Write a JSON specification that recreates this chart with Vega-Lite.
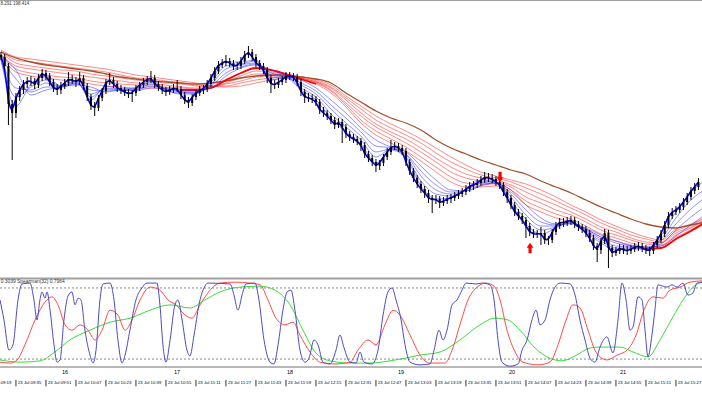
{
"$schema":"https://vega.github.io/schema/vega-lite/v6.json",
"padding":0,"spacing":0,"background":"white","bounds":"flush",
"config":{"view":{"stroke":null},"font":"Liberation Sans"},
"datasets":{
"candles":[
{"t":567,"o":198.890,"c":198.886,"h":198.896,"l":198.880},
{"t":569,"o":198.886,"c":198.868,"h":198.892,"l":198.860},
{"t":571,"o":198.868,"c":198.792,"h":198.874,"l":198.750},
{"t":573,"o":198.792,"c":198.774,"h":198.800,"l":198.680},
{"t":575,"o":198.774,"c":198.806,"h":198.814,"l":198.764},
{"t":577,"o":198.806,"c":198.820,"h":198.828,"l":198.798},
{"t":579,"o":198.820,"c":198.832,"h":198.840,"l":198.812},
{"t":581,"o":198.832,"c":198.838,"h":198.846,"l":198.824},
{"t":583,"o":198.838,"c":198.838,"h":198.848,"l":198.828},
{"t":585,"o":198.838,"c":198.830,"h":198.844,"l":198.822},
{"t":587,"o":198.830,"c":198.844,"h":198.852,"l":198.824},
{"t":589,"o":198.844,"c":198.854,"h":198.862,"l":198.838},
{"t":591,"o":198.854,"c":198.848,"h":198.860,"l":198.840},
{"t":593,"o":198.848,"c":198.836,"h":198.854,"l":198.828},
{"t":595,"o":198.836,"c":198.824,"h":198.842,"l":198.816},
{"t":597,"o":198.824,"c":198.820,"h":198.832,"l":198.810},
{"t":599,"o":198.820,"c":198.828,"h":198.836,"l":198.812},
{"t":601,"o":198.828,"c":198.834,"h":198.842,"l":198.822},
{"t":603,"o":198.834,"c":198.842,"h":198.856,"l":198.828},
{"t":605,"o":198.842,"c":198.840,"h":198.850,"l":198.832},
{"t":607,"o":198.840,"c":198.836,"h":198.846,"l":198.826},
{"t":609,"o":198.836,"c":198.844,"h":198.856,"l":198.830},
{"t":611,"o":198.844,"c":198.828,"h":198.850,"l":198.820},
{"t":613,"o":198.828,"c":198.806,"h":198.834,"l":198.798},
{"t":615,"o":198.806,"c":198.788,"h":198.812,"l":198.780},
{"t":617,"o":198.788,"c":198.784,"h":198.796,"l":198.768},
{"t":619,"o":198.784,"c":198.804,"h":198.810,"l":198.778},
{"t":621,"o":198.804,"c":198.818,"h":198.824,"l":198.798},
{"t":623,"o":198.818,"c":198.836,"h":198.842,"l":198.812},
{"t":625,"o":198.836,"c":198.840,"h":198.854,"l":198.830},
{"t":627,"o":198.840,"c":198.832,"h":198.846,"l":198.824},
{"t":629,"o":198.832,"c":198.824,"h":198.838,"l":198.816},
{"t":631,"o":198.824,"c":198.820,"h":198.830,"l":198.812},
{"t":633,"o":198.820,"c":198.816,"h":198.826,"l":198.808},
{"t":635,"o":198.816,"c":198.812,"h":198.822,"l":198.804},
{"t":637,"o":198.812,"c":198.814,"h":198.820,"l":198.796},
{"t":639,"o":198.814,"c":198.824,"h":198.830,"l":198.808},
{"t":641,"o":198.824,"c":198.830,"h":198.836,"l":198.818},
{"t":643,"o":198.830,"c":198.836,"h":198.844,"l":198.824},
{"t":645,"o":198.836,"c":198.842,"h":198.848,"l":198.830},
{"t":647,"o":198.842,"c":198.844,"h":198.858,"l":198.834},
{"t":649,"o":198.844,"c":198.832,"h":198.850,"l":198.824},
{"t":651,"o":198.832,"c":198.826,"h":198.838,"l":198.818},
{"t":653,"o":198.826,"c":198.820,"h":198.832,"l":198.812},
{"t":655,"o":198.820,"c":198.816,"h":198.826,"l":198.808},
{"t":657,"o":198.816,"c":198.820,"h":198.828,"l":198.810},
{"t":659,"o":198.820,"c":198.824,"h":198.832,"l":198.814},
{"t":661,"o":198.824,"c":198.822,"h":198.840,"l":198.816},
{"t":663,"o":198.822,"c":198.810,"h":198.828,"l":198.802},
{"t":665,"o":198.810,"c":198.800,"h":198.816,"l":198.792},
{"t":667,"o":198.800,"c":198.794,"h":198.806,"l":198.784},
{"t":669,"o":198.794,"c":198.806,"h":198.812,"l":198.788},
{"t":671,"o":198.806,"c":198.814,"h":198.820,"l":198.800},
{"t":673,"o":198.814,"c":198.820,"h":198.828,"l":198.808},
{"t":675,"o":198.820,"c":198.822,"h":198.830,"l":198.812},
{"t":677,"o":198.822,"c":198.832,"h":198.840,"l":198.816},
{"t":679,"o":198.832,"c":198.844,"h":198.852,"l":198.826},
{"t":681,"o":198.844,"c":198.858,"h":198.866,"l":198.838},
{"t":683,"o":198.858,"c":198.870,"h":198.878,"l":198.852},
{"t":685,"o":198.870,"c":198.874,"h":198.882,"l":198.864},
{"t":687,"o":198.874,"c":198.878,"h":198.890,"l":198.868},
{"t":689,"o":198.878,"c":198.874,"h":198.884,"l":198.866},
{"t":691,"o":198.874,"c":198.868,"h":198.880,"l":198.860},
{"t":693,"o":198.868,"c":198.868,"h":198.876,"l":198.860},
{"t":695,"o":198.868,"c":198.878,"h":198.886,"l":198.862},
{"t":697,"o":198.878,"c":198.890,"h":198.898,"l":198.872},
{"t":699,"o":198.890,"c":198.896,"h":198.908,"l":198.884},
{"t":701,"o":198.896,"c":198.886,"h":198.902,"l":198.878},
{"t":703,"o":198.886,"c":198.874,"h":198.892,"l":198.866},
{"t":705,"o":198.874,"c":198.868,"h":198.880,"l":198.860},
{"t":707,"o":198.868,"c":198.860,"h":198.874,"l":198.852},
{"t":709,"o":198.860,"c":198.844,"h":198.866,"l":198.834},
{"t":711,"o":198.844,"c":198.832,"h":198.850,"l":198.814},
{"t":713,"o":198.832,"c":198.830,"h":198.840,"l":198.822},
{"t":715,"o":198.830,"c":198.836,"h":198.844,"l":198.824},
{"t":717,"o":198.836,"c":198.840,"h":198.848,"l":198.830},
{"t":719,"o":198.840,"c":198.848,"h":198.856,"l":198.834},
{"t":721,"o":198.848,"c":198.848,"h":198.856,"l":198.840},
{"t":723,"o":198.848,"c":198.846,"h":198.854,"l":198.838},
{"t":725,"o":198.846,"c":198.836,"h":198.852,"l":198.828},
{"t":727,"o":198.836,"c":198.816,"h":198.842,"l":198.808},
{"t":729,"o":198.816,"c":198.806,"h":198.822,"l":198.794},
{"t":731,"o":198.806,"c":198.804,"h":198.814,"l":198.796},
{"t":733,"o":198.804,"c":198.802,"h":198.812,"l":198.794},
{"t":735,"o":198.802,"c":198.796,"h":198.808,"l":198.788},
{"t":737,"o":198.796,"c":198.780,"h":198.802,"l":198.772},
{"t":739,"o":198.780,"c":198.774,"h":198.786,"l":198.766},
{"t":741,"o":198.774,"c":198.768,"h":198.780,"l":198.760},
{"t":743,"o":198.768,"c":198.760,"h":198.774,"l":198.752},
{"t":745,"o":198.760,"c":198.750,"h":198.766,"l":198.742},
{"t":747,"o":198.750,"c":198.756,"h":198.764,"l":198.744},
{"t":749,"o":198.756,"c":198.746,"h":198.762,"l":198.714},
{"t":751,"o":198.746,"c":198.732,"h":198.752,"l":198.724},
{"t":753,"o":198.732,"c":198.726,"h":198.738,"l":198.718},
{"t":755,"o":198.726,"c":198.722,"h":198.732,"l":198.714},
{"t":757,"o":198.722,"c":198.718,"h":198.728,"l":198.710},
{"t":759,"o":198.718,"c":198.710,"h":198.724,"l":198.698},
{"t":761,"o":198.710,"c":198.692,"h":198.716,"l":198.684},
{"t":763,"o":198.692,"c":198.684,"h":198.698,"l":198.676},
{"t":765,"o":198.684,"c":198.676,"h":198.690,"l":198.668},
{"t":767,"o":198.676,"c":198.668,"h":198.682,"l":198.656},
{"t":769,"o":198.668,"c":198.674,"h":198.680,"l":198.660},
{"t":771,"o":198.674,"c":198.686,"h":198.692,"l":198.668},
{"t":773,"o":198.686,"c":198.696,"h":198.704,"l":198.680},
{"t":775,"o":198.696,"c":198.706,"h":198.720,"l":198.690},
{"t":777,"o":198.706,"c":198.708,"h":198.716,"l":198.700},
{"t":779,"o":198.708,"c":198.704,"h":198.714,"l":198.696},
{"t":781,"o":198.704,"c":198.698,"h":198.710,"l":198.690},
{"t":783,"o":198.698,"c":198.676,"h":198.704,"l":198.668},
{"t":785,"o":198.676,"c":198.658,"h":198.682,"l":198.650},
{"t":787,"o":198.658,"c":198.644,"h":198.664,"l":198.636},
{"t":789,"o":198.644,"c":198.632,"h":198.650,"l":198.624},
{"t":791,"o":198.632,"c":198.622,"h":198.638,"l":198.614},
{"t":793,"o":198.622,"c":198.614,"h":198.628,"l":198.604},
{"t":795,"o":198.614,"c":198.604,"h":198.620,"l":198.594},
{"t":797,"o":198.604,"c":198.600,"h":198.610,"l":198.574},
{"t":799,"o":198.600,"c":198.602,"h":198.610,"l":198.592},
{"t":801,"o":198.602,"c":198.594,"h":198.608,"l":198.584},
{"t":803,"o":198.594,"c":198.598,"h":198.606,"l":198.588},
{"t":805,"o":198.598,"c":198.602,"h":198.610,"l":198.592},
{"t":807,"o":198.602,"c":198.604,"h":198.612,"l":198.594},
{"t":809,"o":198.604,"c":198.608,"h":198.616,"l":198.598},
{"t":811,"o":198.608,"c":198.612,"h":198.620,"l":198.602},
{"t":813,"o":198.612,"c":198.616,"h":198.624,"l":198.606},
{"t":815,"o":198.616,"c":198.622,"h":198.630,"l":198.610},
{"t":817,"o":198.622,"c":198.628,"h":198.636,"l":198.616},
{"t":819,"o":198.628,"c":198.630,"h":198.638,"l":198.620},
{"t":821,"o":198.630,"c":198.634,"h":198.642,"l":198.624},
{"t":823,"o":198.634,"c":198.640,"h":198.648,"l":198.628},
{"t":825,"o":198.640,"c":198.646,"h":198.656,"l":198.634},
{"t":827,"o":198.646,"c":198.644,"h":198.654,"l":198.636},
{"t":829,"o":198.644,"c":198.642,"h":198.652,"l":198.634},
{"t":831,"o":198.642,"c":198.636,"h":198.648,"l":198.628},
{"t":833,"o":198.636,"c":198.630,"h":198.642,"l":198.622},
{"t":835,"o":198.630,"c":198.616,"h":198.636,"l":198.608},
{"t":837,"o":198.616,"c":198.604,"h":198.622,"l":198.594},
{"t":839,"o":198.604,"c":198.590,"h":198.610,"l":198.582},
{"t":841,"o":198.590,"c":198.576,"h":198.596,"l":198.568},
{"t":843,"o":198.576,"c":198.568,"h":198.582,"l":198.560},
{"t":845,"o":198.568,"c":198.560,"h":198.574,"l":198.552},
{"t":847,"o":198.560,"c":198.548,"h":198.566,"l":198.524},
{"t":849,"o":198.548,"c":198.536,"h":198.554,"l":198.528},
{"t":851,"o":198.536,"c":198.532,"h":198.542,"l":198.524},
{"t":853,"o":198.532,"c":198.532,"h":198.540,"l":198.524},
{"t":855,"o":198.532,"c":198.534,"h":198.546,"l":198.510},
{"t":857,"o":198.534,"c":198.520,"h":198.540,"l":198.512},
{"t":859,"o":198.520,"c":198.520,"h":198.528,"l":198.510},
{"t":861,"o":198.520,"c":198.536,"h":198.542,"l":198.514},
{"t":863,"o":198.536,"c":198.548,"h":198.556,"l":198.530},
{"t":865,"o":198.548,"c":198.556,"h":198.564,"l":198.542},
{"t":867,"o":198.556,"c":198.554,"h":198.564,"l":198.546},
{"t":869,"o":198.554,"c":198.558,"h":198.566,"l":198.548},
{"t":871,"o":198.558,"c":198.560,"h":198.568,"l":198.550},
{"t":873,"o":198.560,"c":198.552,"h":198.566,"l":198.544},
{"t":875,"o":198.552,"c":198.546,"h":198.558,"l":198.538},
{"t":877,"o":198.546,"c":198.542,"h":198.552,"l":198.534},
{"t":879,"o":198.542,"c":198.534,"h":198.548,"l":198.526},
{"t":881,"o":198.534,"c":198.524,"h":198.540,"l":198.516},
{"t":883,"o":198.524,"c":198.508,"h":198.530,"l":198.500},
{"t":885,"o":198.508,"c":198.500,"h":198.514,"l":198.476},
{"t":887,"o":198.500,"c":198.518,"h":198.524,"l":198.492},
{"t":889,"o":198.518,"c":198.534,"h":198.542,"l":198.512},
{"t":891,"o":198.534,"c":198.504,"h":198.540,"l":198.464},
{"t":893,"o":198.504,"c":198.494,"h":198.510,"l":198.486},
{"t":895,"o":198.494,"c":198.498,"h":198.506,"l":198.488},
{"t":897,"o":198.498,"c":198.504,"h":198.512,"l":198.492},
{"t":899,"o":198.504,"c":198.500,"h":198.510,"l":198.492},
{"t":901,"o":198.500,"c":198.498,"h":198.508,"l":198.490},
{"t":903,"o":198.498,"c":198.502,"h":198.510,"l":198.492},
{"t":905,"o":198.502,"c":198.506,"h":198.514,"l":198.496},
{"t":907,"o":198.506,"c":198.508,"h":198.516,"l":198.498},
{"t":909,"o":198.508,"c":198.504,"h":198.514,"l":198.496},
{"t":911,"o":198.504,"c":198.500,"h":198.510,"l":198.492},
{"t":913,"o":198.500,"c":198.498,"h":198.506,"l":198.488},
{"t":915,"o":198.498,"c":198.510,"h":198.516,"l":198.492},
{"t":917,"o":198.510,"c":198.520,"h":198.528,"l":198.504},
{"t":919,"o":198.520,"c":198.532,"h":198.540,"l":198.514},
{"t":921,"o":198.532,"c":198.550,"h":198.558,"l":198.526},
{"t":923,"o":198.550,"c":198.568,"h":198.576,"l":198.544},
{"t":925,"o":198.568,"c":198.576,"h":198.584,"l":198.562},
{"t":927,"o":198.576,"c":198.580,"h":198.588,"l":198.570},
{"t":929,"o":198.580,"c":198.586,"h":198.594,"l":198.574},
{"t":931,"o":198.586,"c":198.596,"h":198.604,"l":198.580},
{"t":933,"o":198.596,"c":198.606,"h":198.614,"l":198.590},
{"t":935,"o":198.606,"c":198.618,"h":198.626,"l":198.600},
{"t":937,"o":198.618,"c":198.626,"h":198.634,"l":198.612},
{"t":939,"o":198.626,"c":198.636,"h":198.644,"l":198.620}
],
"ribbon":[
{"t":567,"br":198.896,"r1":198.888,"r2":198.890,"r3":198.892,"r4":198.896,"r5":198.898,"r6":198.900,"b1":198.880,"b2":198.882,"b3":198.884,"b4":198.886,"b5":198.888},
{"t":575,"br":198.884,"r1":198.856,"r2":198.862,"r3":198.868,"r4":198.874,"r5":198.880,"r6":198.886,"b1":198.788,"b2":198.806,"b3":198.824,"b4":198.842,"b5":198.860},
{"t":583,"br":198.876,"r1":198.848,"r2":198.854,"r3":198.862,"r4":198.868,"r5":198.876,"r6":198.882,"b1":198.832,"b2":198.826,"b3":198.820,"b4":198.816,"b5":198.810},
{"t":591,"br":198.870,"r1":198.844,"r2":198.850,"r3":198.858,"r4":198.864,"r5":198.872,"r6":198.878,"b1":198.848,"b2":198.840,"b3":198.834,"b4":198.826,"b5":198.820},
{"t":599,"br":198.866,"r1":198.840,"r2":198.846,"r3":198.854,"r4":198.860,"r5":198.868,"r6":198.874,"b1":198.828,"b2":198.828,"b3":198.826,"b4":198.826,"b5":198.826},
{"t":607,"br":198.862,"r1":198.838,"r2":198.844,"r3":198.850,"r4":198.858,"r5":198.864,"r6":198.870,"b1":198.838,"b2":198.836,"b3":198.834,"b4":198.832,"b5":198.830},
{"t":615,"br":198.858,"r1":198.832,"r2":198.838,"r3":198.846,"r4":198.852,"r5":198.860,"r6":198.866,"b1":198.800,"b2":198.806,"b3":198.812,"b4":198.820,"b5":198.826},
{"t":623,"br":198.852,"r1":198.828,"r2":198.834,"r3":198.842,"r4":198.848,"r5":198.856,"r6":198.862,"b1":198.828,"b2":198.824,"b3":198.822,"b4":198.818,"b5":198.816},
{"t":631,"br":198.846,"r1":198.826,"r2":198.832,"r3":198.838,"r4":198.844,"r5":198.850,"r6":198.856,"b1":198.822,"b2":198.822,"b3":198.820,"b4":198.820,"b5":198.820},
{"t":639,"br":198.842,"r1":198.824,"r2":198.830,"r3":198.834,"r4":198.840,"r5":198.844,"r6":198.850,"b1":198.824,"b2":198.822,"b3":198.820,"b4":198.820,"b5":198.818},
{"t":647,"br":198.838,"r1":198.824,"r2":198.828,"r3":198.832,"r4":198.838,"r5":198.842,"r6":198.846,"b1":198.840,"b2":198.836,"b3":198.832,"b4":198.828,"b5":198.824},
{"t":655,"br":198.836,"r1":198.822,"r2":198.826,"r3":198.830,"r4":198.834,"r5":198.838,"r6":198.842,"b1":198.820,"b2":198.820,"b3":198.822,"b4":198.822,"b5":198.824},
{"t":663,"br":198.834,"r1":198.820,"r2":198.824,"r3":198.826,"r4":198.832,"r5":198.834,"r6":198.838,"b1":198.812,"b2":198.814,"b3":198.816,"b4":198.818,"b5":198.820},
{"t":671,"br":198.832,"r1":198.820,"r2":198.822,"r3":198.824,"r4":198.828,"r5":198.830,"r6":198.834,"b1":198.812,"b2":198.814,"b3":198.814,"b4":198.816,"b5":198.818},
{"t":679,"br":198.834,"r1":198.824,"r2":198.824,"r3":198.826,"r4":198.826,"r5":198.828,"r6":198.828,"b1":198.840,"b2":198.836,"b3":198.832,"b4":198.828,"b5":198.824},
{"t":687,"br":198.838,"r1":198.840,"r2":198.838,"r3":198.834,"r4":198.832,"r5":198.828,"r6":198.826,"b1":198.876,"b2":198.868,"b3":198.862,"b4":198.854,"b5":198.848},
{"t":695,"br":198.844,"r1":198.854,"r2":198.848,"r3":198.844,"r4":198.838,"r5":198.834,"r6":198.828,"b1":198.876,"b2":198.872,"b3":198.870,"b4":198.866,"b5":198.864},
{"t":703,"br":198.848,"r1":198.864,"r2":198.858,"r3":198.852,"r4":198.846,"r5":198.840,"r6":198.834,"b1":198.880,"b2":198.878,"b3":198.874,"b4":198.872,"b5":198.870},
{"t":711,"br":198.850,"r1":198.860,"r2":198.856,"r3":198.852,"r4":198.848,"r5":198.844,"r6":198.840,"b1":198.840,"b2":198.844,"b3":198.850,"b4":198.854,"b5":198.860},
{"t":719,"br":198.850,"r1":198.852,"r2":198.850,"r3":198.848,"r4":198.848,"r5":198.846,"r6":198.844,"b1":198.844,"b2":198.846,"b3":198.846,"b4":198.848,"b5":198.850},
{"t":727,"br":198.846,"r1":198.842,"r2":198.842,"r3":198.844,"r4":198.844,"r5":198.846,"r6":198.846,"b1":198.820,"b2":198.824,"b3":198.830,"b4":198.834,"b5":198.840},
{"t":735,"br":198.842,"r1":198.832,"r2":198.834,"r3":198.836,"r4":198.836,"r5":198.838,"r6":198.840,"b1":198.800,"b2":198.806,"b3":198.812,"b4":198.818,"b5":198.824},
{"t":743,"br":198.834,"r1":198.814,"r2":198.818,"r3":198.820,"r4":198.824,"r5":198.826,"r6":198.830,"b1":198.764,"b2":198.772,"b3":198.782,"b4":198.790,"b5":198.800},
{"t":751,"br":198.814,"r1":198.786,"r2":198.790,"r3":198.794,"r4":198.800,"r5":198.804,"r6":198.808,"b1":198.736,"b2":198.746,"b3":198.754,"b4":198.764,"b5":198.774},
{"t":759,"br":198.796,"r1":198.754,"r2":198.760,"r3":198.768,"r4":198.774,"r5":198.782,"r6":198.788,"b1":198.712,"b2":198.720,"b3":198.728,"b4":198.736,"b5":198.744},
{"t":767,"br":198.778,"r1":198.730,"r2":198.738,"r3":198.746,"r4":198.752,"r5":198.760,"r6":198.768,"b1":198.674,"b2":198.686,"b3":198.696,"b4":198.708,"b5":198.720},
{"t":775,"br":198.764,"r1":198.714,"r2":198.722,"r3":198.730,"r4":198.736,"r5":198.744,"r6":198.752,"b1":198.700,"b2":198.702,"b3":198.702,"b4":198.704,"b5":198.706},
{"t":783,"br":198.754,"r1":198.698,"r2":198.706,"r3":198.714,"r4":198.722,"r5":198.730,"r6":198.738,"b1":198.684,"b2":198.686,"b3":198.690,"b4":198.692,"b5":198.696},
{"t":791,"br":198.740,"r1":198.678,"r2":198.686,"r3":198.696,"r4":198.704,"r5":198.714,"r6":198.722,"b1":198.628,"b2":198.638,"b3":198.648,"b4":198.658,"b5":198.668},
{"t":799,"br":198.720,"r1":198.656,"r2":198.666,"r3":198.676,"r4":198.684,"r5":198.694,"r6":198.704,"b1":198.602,"b2":198.612,"b3":198.620,"b4":198.630,"b5":198.640},
{"t":807,"br":198.704,"r1":198.636,"r2":198.646,"r3":198.656,"r4":198.666,"r5":198.676,"r6":198.686,"b1":198.604,"b2":198.608,"b3":198.612,"b4":198.616,"b5":198.620},
{"t":815,"br":198.692,"r1":198.626,"r2":198.634,"r3":198.644,"r4":198.652,"r5":198.662,"r6":198.670,"b1":198.622,"b2":198.620,"b3":198.620,"b4":198.618,"b5":198.618},
{"t":823,"br":198.680,"r1":198.626,"r2":198.632,"r3":198.638,"r4":198.644,"r5":198.650,"r6":198.656,"b1":198.640,"b2":198.636,"b3":198.634,"b4":198.630,"b5":198.628},
{"t":831,"br":198.670,"r1":198.628,"r2":198.632,"r3":198.636,"r4":198.640,"r5":198.644,"r6":198.648,"b1":198.636,"b2":198.636,"b3":198.634,"b4":198.634,"b5":198.634},
{"t":839,"br":198.660,"r1":198.616,"r2":198.620,"r3":198.626,"r4":198.630,"r5":198.636,"r6":198.640,"b1":198.592,"b2":198.598,"b3":198.606,"b4":198.612,"b5":198.620},
{"t":847,"br":198.652,"r1":198.590,"r2":198.598,"r3":198.606,"r4":198.616,"r5":198.624,"r6":198.632,"b1":198.552,"b2":198.562,"b3":198.570,"b4":198.580,"b5":198.590},
{"t":855,"br":198.638,"r1":198.576,"r2":198.584,"r3":198.594,"r4":198.602,"r5":198.612,"r6":198.620,"b1":198.532,"b2":198.540,"b3":198.548,"b4":198.556,"b5":198.564},
{"t":863,"br":198.626,"r1":198.564,"r2":198.572,"r3":198.580,"r4":198.590,"r5":198.598,"r6":198.606,"b1":198.544,"b2":198.546,"b3":198.548,"b4":198.550,"b5":198.552},
{"t":871,"br":198.614,"r1":198.556,"r2":198.562,"r3":198.570,"r4":198.576,"r5":198.584,"r6":198.590,"b1":198.558,"b2":198.556,"b3":198.554,"b4":198.554,"b5":198.552},
{"t":879,"br":198.600,"r1":198.542,"r2":198.548,"r3":198.556,"r4":198.562,"r5":198.570,"r6":198.576,"b1":198.536,"b2":198.538,"b3":198.540,"b4":198.542,"b5":198.544},
{"t":887,"br":198.586,"r1":198.526,"r2":198.532,"r3":198.540,"r4":198.546,"r5":198.554,"r6":198.560,"b1":198.514,"b2":198.518,"b3":198.522,"b4":198.526,"b5":198.530},
{"t":895,"br":198.574,"r1":198.518,"r2":198.524,"r3":198.530,"r4":198.536,"r5":198.542,"r6":198.548,"b1":198.500,"b2":198.504,"b3":198.508,"b4":198.514,"b5":198.518},
{"t":903,"br":198.562,"r1":198.508,"r2":198.514,"r3":198.520,"r4":198.524,"r5":198.530,"r6":198.536,"b1":198.502,"b2":198.504,"b3":198.506,"b4":198.508,"b5":198.510},
{"t":911,"br":198.552,"r1":198.502,"r2":198.506,"r3":198.512,"r4":198.516,"r5":198.522,"r6":198.526,"b1":198.502,"b2":198.502,"b3":198.504,"b4":198.504,"b5":198.506},
{"t":919,"br":198.546,"r1":198.504,"r2":198.508,"r3":198.510,"r4":198.514,"r5":198.516,"r6":198.520,"b1":198.528,"b2":198.522,"b3":198.518,"b4":198.512,"b5":198.508},
{"t":927,"br":198.544,"r1":198.522,"r2":198.526,"r3":198.530,"r4":198.534,"r5":198.538,"r6":198.542,"b1":198.576,"b2":198.564,"b3":198.552,"b4":198.540,"b5":198.528},
{"t":935,"br":198.550,"r1":198.538,"r2":198.540,"r3":198.544,"r4":198.546,"r5":198.550,"r6":198.552,"b1":198.616,"b2":198.600,"b3":198.582,"b4":198.566,"b5":198.550},
{"t":943,"br":198.556,"r1":198.556,"r2":198.558,"r3":198.560,"r4":198.562,"r5":198.564,"r6":198.566,"b1":198.640,"b2":198.622,"b3":198.606,"b4":198.588,"b5":198.572}
],
"osc":[
{"t":566.5,"v":0.53,"s":"b"},{"t":568.6,"v":0.08,"s":"b"},{"t":571.3,"v":-0.60,"s":"b"},{"t":573.4,"v":-0.48,"s":"b"},{"t":576.1,"v":0.53,"s":"b"},{"t":578.2,"v":0.89,"s":"b"},{"t":582.5,"v":0.91,"s":"b"},{"t":584.6,"v":0.53,"s":"b"},{"t":586.2,"v":0.08,"s":"b"},{"t":587.8,"v":0.53,"s":"b"},{"t":588.9,"v":0.71,"s":"b"},{"t":590.5,"v":0.57,"s":"b"},{"t":591.6,"v":0.71,"s":"b"},{"t":593.2,"v":0.30,"s":"b"},{"t":595.3,"v":-0.48,"s":"b"},{"t":596.9,"v":-0.87,"s":"b"},{"t":598.5,"v":-0.82,"s":"b"},{"t":600.6,"v":0.08,"s":"b"},{"t":602.8,"v":0.62,"s":"b"},{"t":604.9,"v":0.71,"s":"b"},{"t":606.5,"v":0.42,"s":"b"},{"t":608.1,"v":0.57,"s":"b"},{"t":609.7,"v":0.53,"s":"b"},{"t":611.8,"v":-0.15,"s":"b"},{"t":614.5,"v":-0.71,"s":"b"},{"t":616.1,"v":-0.89,"s":"b"},{"t":617.7,"v":-0.60,"s":"b"},{"t":619.8,"v":0.53,"s":"b"},{"t":621.4,"v":0.89,"s":"b"},{"t":625.2,"v":0.91,"s":"b"},{"t":627.3,"v":0.53,"s":"b"},{"t":629.4,"v":-0.37,"s":"b"},{"t":631.6,"v":-0.89,"s":"b"},{"t":633.2,"v":-0.71,"s":"b"},{"t":635.8,"v":-0.15,"s":"b"},{"t":639.0,"v":0.53,"s":"b"},{"t":642.2,"v":0.80,"s":"b"},{"t":644.9,"v":0.91,"s":"b"},{"t":650.2,"v":0.91,"s":"b"},{"t":651.8,"v":0.42,"s":"b"},{"t":653.4,"v":-0.48,"s":"b"},{"t":655.0,"v":-0.87,"s":"b"},{"t":657.2,"v":-0.37,"s":"b"},{"t":659.8,"v":0.42,"s":"b"},{"t":661.4,"v":0.53,"s":"b"},{"t":663.6,"v":0.08,"s":"b"},{"t":666.2,"v":-0.60,"s":"b"},{"t":667.8,"v":-0.73,"s":"b"},{"t":670.0,"v":-0.26,"s":"b"},{"t":672.6,"v":0.42,"s":"b"},{"t":675.3,"v":0.80,"s":"b"},{"t":677.4,"v":0.91,"s":"b"},{"t":689.2,"v":0.89,"s":"b"},{"t":691.3,"v":0.64,"s":"b"},{"t":693.4,"v":0.30,"s":"b"},{"t":695.6,"v":0.64,"s":"b"},{"t":697.7,"v":0.89,"s":"b"},{"t":702.5,"v":0.91,"s":"b"},{"t":704.6,"v":0.53,"s":"b"},{"t":707.3,"v":-0.37,"s":"b"},{"t":710.5,"v":-0.87,"s":"b"},{"t":712.6,"v":-0.91,"s":"b"},{"t":714.8,"v":-0.48,"s":"b"},{"t":717.4,"v":0.30,"s":"b"},{"t":719.6,"v":0.71,"s":"b"},{"t":721.7,"v":0.75,"s":"b"},{"t":723.8,"v":0.30,"s":"b"},{"t":726.5,"v":-0.60,"s":"b"},{"t":729.2,"v":-0.87,"s":"b"},{"t":731.3,"v":-0.78,"s":"b"},{"t":734.0,"v":-0.37,"s":"b"},{"t":736.1,"v":-0.48,"s":"b"},{"t":738.8,"v":-0.87,"s":"b"},{"t":742.5,"v":-0.91,"s":"b"},{"t":745.7,"v":-0.60,"s":"b"},{"t":747.8,"v":-0.26,"s":"b"},{"t":750.0,"v":-0.55,"s":"b"},{"t":753.2,"v":-0.87,"s":"b"},{"t":756.4,"v":-0.89,"s":"b"},{"t":758.5,"v":-0.64,"s":"b"},{"t":760.6,"v":-0.87,"s":"b"},{"t":764.9,"v":-0.91,"s":"b"},{"t":768.1,"v":-0.60,"s":"b"},{"t":770.8,"v":0.19,"s":"b"},{"t":773.4,"v":0.71,"s":"b"},{"t":775.6,"v":0.80,"s":"b"},{"t":777.7,"v":0.53,"s":"b"},{"t":780.4,"v":0.08,"s":"b"},{"t":782.5,"v":-0.48,"s":"b"},{"t":785.2,"v":-0.87,"s":"b"},{"t":790.5,"v":-0.93,"s":"b"},{"t":795.8,"v":-0.91,"s":"b"},{"t":798.0,"v":-0.60,"s":"b"},{"t":800.6,"v":-0.15,"s":"b"},{"t":802.8,"v":-0.37,"s":"b"},{"t":804.9,"v":-0.15,"s":"b"},{"t":807.6,"v":0.42,"s":"b"},{"t":810.2,"v":0.53,"s":"b"},{"t":812.9,"v":0.75,"s":"b"},{"t":815.0,"v":0.91,"s":"b"},{"t":820.4,"v":0.89,"s":"b"},{"t":823.6,"v":0.91,"s":"b"},{"t":827.8,"v":0.87,"s":"b"},{"t":830.0,"v":0.53,"s":"b"},{"t":832.1,"v":-0.37,"s":"b"},{"t":834.2,"v":-0.87,"s":"b"},{"t":838.5,"v":-0.96,"s":"b"},{"t":842.8,"v":-0.91,"s":"b"},{"t":844.9,"v":-0.60,"s":"b"},{"t":847.6,"v":-0.37,"s":"b"},{"t":850.2,"v":0.08,"s":"b"},{"t":852.4,"v":0.30,"s":"b"},{"t":854.5,"v":-0.03,"s":"b"},{"t":857.2,"v":0.08,"s":"b"},{"t":859.8,"v":0.53,"s":"b"},{"t":862.5,"v":0.82,"s":"b"},{"t":865.2,"v":0.91,"s":"b"},{"t":870.5,"v":0.89,"s":"b"},{"t":873.2,"v":0.64,"s":"b"},{"t":875.8,"v":0.08,"s":"b"},{"t":878.5,"v":-0.37,"s":"b"},{"t":881.2,"v":-0.78,"s":"b"},{"t":883.8,"v":-0.87,"s":"b"},{"t":886.5,"v":-0.53,"s":"b"},{"t":890.2,"v":-0.30,"s":"b"},{"t":893.4,"v":-0.66,"s":"b"},{"t":896.1,"v":0.08,"s":"b"},{"t":898.2,"v":0.91,"s":"b"},{"t":900.4,"v":0.53,"s":"b"},{"t":902.5,"v":-0.15,"s":"b"},{"t":904.1,"v":-0.08,"s":"b"},{"t":906.8,"v":0.60,"s":"b"},{"t":908.9,"v":0.53,"s":"b"},{"t":910.5,"v":-0.15,"s":"b"},{"t":912.1,"v":-0.75,"s":"b"},{"t":914.2,"v":-0.26,"s":"b"},{"t":915.8,"v":0.30,"s":"b"},{"t":917.4,"v":0.87,"s":"b"},{"t":922.2,"v":0.82,"s":"b"},{"t":924.9,"v":0.87,"s":"b"},{"t":927.6,"v":0.82,"s":"b"},{"t":930.8,"v":0.91,"s":"b"},{"t":933.4,"v":0.64,"s":"b"},{"t":936.1,"v":0.69,"s":"b"},{"t":938.2,"v":0.91,"s":"b"},{"t":940.9,"v":0.93,"s":"b"},
{"t":566.5,"v":-0.87,"s":"r"},{"t":571.8,"v":-0.89,"s":"r"},{"t":575.6,"v":-0.82,"s":"r"},{"t":579.8,"v":-0.48,"s":"r"},{"t":585.2,"v":0.08,"s":"r"},{"t":590.5,"v":0.48,"s":"r"},{"t":594.2,"v":0.60,"s":"r"},{"t":597.4,"v":0.42,"s":"r"},{"t":601.2,"v":-0.03,"s":"r"},{"t":604.9,"v":-0.15,"s":"r"},{"t":609.2,"v":-0.03,"s":"r"},{"t":613.4,"v":-0.15,"s":"r"},{"t":617.2,"v":-0.37,"s":"r"},{"t":620.9,"v":-0.15,"s":"r"},{"t":625.2,"v":0.30,"s":"r"},{"t":629.4,"v":0.19,"s":"r"},{"t":633.2,"v":-0.15,"s":"r"},{"t":636.9,"v":0.08,"s":"r"},{"t":641.2,"v":0.53,"s":"r"},{"t":646.5,"v":0.82,"s":"r"},{"t":651.8,"v":0.75,"s":"r"},{"t":656.1,"v":0.53,"s":"r"},{"t":660.4,"v":0.42,"s":"r"},{"t":665.2,"v":0.19,"s":"r"},{"t":668.9,"v":0.12,"s":"r"},{"t":673.2,"v":0.42,"s":"r"},{"t":678.5,"v":0.75,"s":"r"},{"t":683.8,"v":0.91,"s":"r"},{"t":691.8,"v":0.93,"s":"r"},{"t":699.8,"v":0.91,"s":"r"},{"t":705.2,"v":0.87,"s":"r"},{"t":709.4,"v":0.53,"s":"r"},{"t":713.7,"v":0.12,"s":"r"},{"t":718.5,"v":-0.03,"s":"r"},{"t":722.8,"v":0.03,"s":"r"},{"t":726.5,"v":-0.26,"s":"r"},{"t":731.8,"v":-0.64,"s":"r"},{"t":737.2,"v":-0.87,"s":"r"},{"t":745.2,"v":-0.91,"s":"r"},{"t":753.2,"v":-0.87,"s":"r"},{"t":757.4,"v":-0.60,"s":"r"},{"t":762.8,"v":-0.37,"s":"r"},{"t":767.0,"v":-0.48,"s":"r"},{"t":771.8,"v":-0.03,"s":"r"},{"t":776.1,"v":0.30,"s":"r"},{"t":779.8,"v":0.19,"s":"r"},{"t":785.2,"v":-0.26,"s":"r"},{"t":790.5,"v":-0.71,"s":"r"},{"t":795.8,"v":-0.89,"s":"r"},{"t":803.8,"v":-0.89,"s":"r"},{"t":807.6,"v":-0.60,"s":"r"},{"t":811.8,"v":-0.03,"s":"r"},{"t":816.1,"v":0.53,"s":"r"},{"t":820.4,"v":0.80,"s":"r"},{"t":825.7,"v":0.91,"s":"r"},{"t":830.0,"v":0.84,"s":"r"},{"t":833.2,"v":0.53,"s":"r"},{"t":836.9,"v":-0.15,"s":"r"},{"t":841.2,"v":-0.64,"s":"r"},{"t":845.4,"v":-0.87,"s":"r"},{"t":853.4,"v":-0.93,"s":"r"},{"t":859.8,"v":-0.87,"s":"r"},{"t":864.1,"v":-0.48,"s":"r"},{"t":868.4,"v":0.08,"s":"r"},{"t":872.1,"v":0.42,"s":"r"},{"t":875.8,"v":0.35,"s":"r"},{"t":880.1,"v":-0.15,"s":"r"},{"t":883.8,"v":-0.60,"s":"r"},{"t":886.5,"v":-0.75,"s":"r"},{"t":890.2,"v":-0.82,"s":"r"},{"t":895.6,"v":-0.71,"s":"r"},{"t":900.9,"v":-0.60,"s":"r"},{"t":906.2,"v":-0.21,"s":"r"},{"t":909.4,"v":0.24,"s":"r"},{"t":914.8,"v":0.60,"s":"r"},{"t":920.1,"v":0.57,"s":"r"},{"t":923.8,"v":0.75,"s":"r"},{"t":929.2,"v":0.82,"s":"r"},{"t":934.5,"v":0.93,"s":"r"},{"t":940.9,"v":0.96,"s":"r"},
{"t":566.5,"v":-0.82,"s":"g"},{"t":577.2,"v":-0.87,"s":"g"},{"t":587.8,"v":-0.84,"s":"g"},{"t":595.8,"v":-0.64,"s":"g"},{"t":603.8,"v":-0.37,"s":"g"},{"t":614.5,"v":-0.15,"s":"g"},{"t":625.2,"v":0.03,"s":"g"},{"t":635.8,"v":0.12,"s":"g"},{"t":646.5,"v":0.30,"s":"g"},{"t":657.2,"v":0.42,"s":"g"},{"t":667.8,"v":0.35,"s":"g"},{"t":675.8,"v":0.53,"s":"g"},{"t":683.8,"v":0.71,"s":"g"},{"t":694.5,"v":0.82,"s":"g"},{"t":705.2,"v":0.84,"s":"g"},{"t":713.2,"v":0.75,"s":"g"},{"t":721.2,"v":0.42,"s":"g"},{"t":728.1,"v":-0.15,"s":"g"},{"t":734.5,"v":-0.64,"s":"g"},{"t":742.5,"v":-0.84,"s":"g"},{"t":753.2,"v":-0.89,"s":"g"},{"t":763.8,"v":-0.89,"s":"g"},{"t":774.5,"v":-0.84,"s":"g"},{"t":782.5,"v":-0.78,"s":"g"},{"t":790.5,"v":-0.71,"s":"g"},{"t":801.2,"v":-0.64,"s":"g"},{"t":811.8,"v":-0.37,"s":"g"},{"t":822.5,"v":-0.03,"s":"g"},{"t":830.5,"v":0.12,"s":"g"},{"t":837.4,"v":0.08,"s":"g"},{"t":843.8,"v":-0.15,"s":"g"},{"t":851.8,"v":-0.55,"s":"g"},{"t":859.8,"v":-0.78,"s":"g"},{"t":866.2,"v":-0.84,"s":"g"},{"t":873.2,"v":-0.73,"s":"g"},{"t":881.2,"v":-0.55,"s":"g"},{"t":886.5,"v":-0.53,"s":"g"},{"t":897.2,"v":-0.53,"s":"g"},{"t":904.1,"v":-0.64,"s":"g"},{"t":912.1,"v":-0.75,"s":"g"},{"t":918.5,"v":-0.37,"s":"g"},{"t":925.4,"v":0.15,"s":"g"},{"t":930.8,"v":0.53,"s":"g"},{"t":936.1,"v":0.82,"s":"g"},{"t":940.9,"v":0.93,"s":"g"}
],
"arrows":[{"t":833.2,"p":198.646,"d":"dn"},{"t":849.2,"p":198.504,"d":"up"}],
"levels":[{"lv":0.8},{"lv":-0.8}],
"ticks":[
{"t":559,"lab":"23 Jul 09:19"},{"t":575,"lab":"23 Jul 09:35"},{"t":591,"lab":"23 Jul 09:51"},{"t":607,"lab":"23 Jul 10:07"},{"t":623,"lab":"23 Jul 10:23"},{"t":639,"lab":"23 Jul 10:39"},{"t":655,"lab":"23 Jul 10:55"},{"t":671,"lab":"23 Jul 11:11"},{"t":687,"lab":"23 Jul 11:27"},{"t":703,"lab":"23 Jul 11:43"},{"t":719,"lab":"23 Jul 11:59"},{"t":735,"lab":"23 Jul 12:15"},{"t":751,"lab":"23 Jul 12:31"},{"t":767,"lab":"23 Jul 12:47"},{"t":783,"lab":"23 Jul 13:03"},{"t":799,"lab":"23 Jul 13:19"},{"t":815,"lab":"23 Jul 13:35"},{"t":831,"lab":"23 Jul 13:51"},{"t":847,"lab":"23 Jul 14:07"},{"t":863,"lab":"23 Jul 14:23"},{"t":879,"lab":"23 Jul 14:39"},{"t":895,"lab":"23 Jul 14:55"},{"t":911,"lab":"23 Jul 15:11"},{"t":927,"lab":"23 Jul 15:27"}
],
"hours":[{"t":601.2,"lab":"16"},{"t":660.9,"lab":"17"},{"t":721.2,"lab":"18"},{"t":780.4,"lab":"19"},{"t":839.6,"lab":"20"},{"t":898.8,"lab":"21"}]
},
"vconcat":[
{"width":702,"height":276,
 "layer":[
  {"data":{"name":"ribbon"},"transform":[{"fold":["r1","r2","r3","r4","r5","r6"],"as":["k","v"]}],
   "mark":{"type":"line","color":"#ff2a2a","strokeWidth":0.8,"opacity":0.7,"interpolate":"monotone","clip":true},
   "encoding":{"x":{"field":"t","type":"quantitative","scale":{"domain":[566.5,940.9],"nice":false,"zero":false},"axis":null},
     "y":{"field":"v","type":"quantitative","scale":{"domain":[198.448,199.0],"nice":false,"zero":false},"axis":null},
     "detail":{"field":"k"}}},
  {"data":{"name":"ribbon"},
   "mark":{"type":"line","color":"#a0522d","strokeWidth":1.3,"interpolate":"monotone","clip":true},
   "encoding":{"x":{"field":"t","type":"quantitative"},"y":{"field":"br","type":"quantitative"}}},
  {"data":{"name":"ribbon"},"transform":[{"filter":"datum.t>=663 && datum.t<=735"}],
   "mark":{"type":"line","color":"#ff0000","strokeWidth":1.8,"interpolate":"monotone","clip":true},
   "encoding":{"x":{"field":"t","type":"quantitative"},"y":{"field":"r1","type":"quantitative"}}},
  {"data":{"name":"ribbon"},"transform":[{"filter":"datum.t>=911"}],
   "mark":{"type":"line","color":"#ff0000","strokeWidth":1.8,"interpolate":"monotone","clip":true},
   "encoding":{"x":{"field":"t","type":"quantitative"},"y":{"field":"r1","type":"quantitative"}}},
  {"data":{"name":"ribbon"},"transform":[{"fold":["b1","b2","b3","b4","b5"],"as":["k","v"]}],
   "mark":{"type":"line","color":"#3c3cff","strokeWidth":0.8,"opacity":0.7,"interpolate":"monotone","clip":true},
   "encoding":{"x":{"field":"t","type":"quantitative"},"y":{"field":"v","type":"quantitative"},"detail":{"field":"k"}}},
  {"data":{"name":"candles"},
   "mark":{"type":"line","color":"#0000ff","strokeWidth":1.6,"interpolate":"basis","clip":true},
   "encoding":{"x":{"field":"t","type":"quantitative"},"y":{"field":"c","type":"quantitative"}}},
  {"data":{"name":"candles"},
   "mark":{"type":"rule","color":"#000000","strokeWidth":1,"clip":true},
   "encoding":{"x":{"field":"t","type":"quantitative"},"y":{"field":"l","type":"quantitative"},"y2":{"field":"h"}}},
  {"data":{"name":"candles"},
   "mark":{"type":"rule","color":"#000000","strokeWidth":2,"clip":true},
   "encoding":{"x":{"field":"t","type":"quantitative"},"y":{"field":"o","type":"quantitative"},"y2":{"field":"c"}}},
  {"data":{"name":"arrows"},
   "mark":{"type":"point","filled":true,"color":"#ff0000","opacity":1,"size":110,"clip":true},
   "encoding":{"x":{"field":"t","type":"quantitative"},"y":{"field":"p","type":"quantitative"},
     "shape":{"field":"d","type":"nominal","legend":null,"scale":{"domain":["dn","up"],"range":["M-0.3,-1L0.3,-1L0.3,0.05L0.65,0.05L0,1L-0.65,0.05L-0.3,0.05Z","M-0.3,1L0.3,1L0.3,-0.05L0.65,-0.05L0,-1L-0.65,-0.05L-0.3,-0.05Z"]}}}},
  {"data":{"values":[{}]},
   "mark":{"type":"rule","color":"#a0a0a0","strokeWidth":1,"clip":true},
   "encoding":{"y":{"datum":198.999,"type":"quantitative"}}},
  {"data":{"values":[{}]},
   "mark":{"type":"text","text":"8.291 198.414","align":"left","baseline":"middle","fontSize":4.5,"color":"#333333","clip":true},
   "encoding":{"x":{"datum":566.7,"type":"quantitative"},"y":{"datum":198.992,"type":"quantitative"}}}
 ]},
{"width":702,"height":92,
 "layer":[
  {"data":{"name":"levels"},
   "mark":{"type":"rule","color":"#8a8a8a","strokeWidth":1,"strokeDash":[2,2],"clip":true},
   "encoding":{"y":{"field":"lv","type":"quantitative","scale":{"domain":[-1.001,1.069],"nice":false,"zero":false},"axis":null}}},
  {"data":{"values":[{}]},
   "mark":{"type":"rule","color":"#a0a0a0","strokeWidth":2,"clip":true},
   "encoding":{"y":{"datum":1.0125,"type":"quantitative"}}},
  {"data":{"values":[{}]},
   "mark":{"type":"rule","color":"#a0a0a0","strokeWidth":1.5,"clip":true},
   "encoding":{"y":{"datum":-0.979,"type":"quantitative"}}},
  {"data":{"name":"osc"},"transform":[{"filter":"datum.s=='g'"}],
   "mark":{"type":"line","color":"#3cdc3c","strokeWidth":1,"interpolate":"monotone","clip":true},
   "encoding":{"x":{"field":"t","type":"quantitative","scale":{"domain":[566.5,940.9],"nice":false,"zero":false},"axis":null},"y":{"field":"v","type":"quantitative"}}},
  {"data":{"name":"osc"},"transform":[{"filter":"datum.s=='r'"}],
   "mark":{"type":"line","color":"#ff4a4a","strokeWidth":1,"interpolate":"monotone","clip":true},
   "encoding":{"x":{"field":"t","type":"quantitative"},"y":{"field":"v","type":"quantitative"}}},
  {"data":{"name":"osc"},"transform":[{"filter":"datum.s=='b'"}],
   "mark":{"type":"line","color":"#4b4bc4","strokeWidth":1,"interpolate":"monotone","clip":true},
   "encoding":{"x":{"field":"t","type":"quantitative"},"y":{"field":"v","type":"quantitative"}}},
  {"data":{"values":[{}]},
   "mark":{"type":"text","text":"0.3039 Spearman(32) 0.7964","align":"left","baseline":"middle","fontSize":4.9,"color":"#333333","clip":true},
   "encoding":{"x":{"datum":566.9,"type":"quantitative"},"y":{"datum":0.934,"type":"quantitative"}}}
 ]},
{"width":702,"height":27,
 "layer":[
  {"data":{"name":"hours"},
   "mark":{"type":"text","align":"center","baseline":"middle","fontSize":5.5,"color":"#000000","clip":true},
   "encoding":{"x":{"field":"t","type":"quantitative","scale":{"domain":[566.5,940.9],"nice":false,"zero":false},"axis":null},
     "y":{"datum":0.85,"type":"quantitative","scale":{"domain":[0,1],"nice":false,"zero":false},"axis":null},
     "text":{"field":"lab"}}},
  {"data":{"name":"ticks"},
   "mark":{"type":"text","align":"left","baseline":"middle","dx":2,"fontSize":4.3,"color":"#000000","clip":true},
   "encoding":{"x":{"field":"t","type":"quantitative"},"y":{"datum":0.44,"type":"quantitative"},"text":{"field":"lab"}}},
  {"data":{"name":"ticks"},
   "mark":{"type":"rule","color":"#000000","strokeWidth":0.8,"clip":true},
   "encoding":{"x":{"field":"t","type":"quantitative"},"y":{"datum":0.56,"type":"quantitative"},"y2":{"datum":0.32}}}
 ]}
]
}
